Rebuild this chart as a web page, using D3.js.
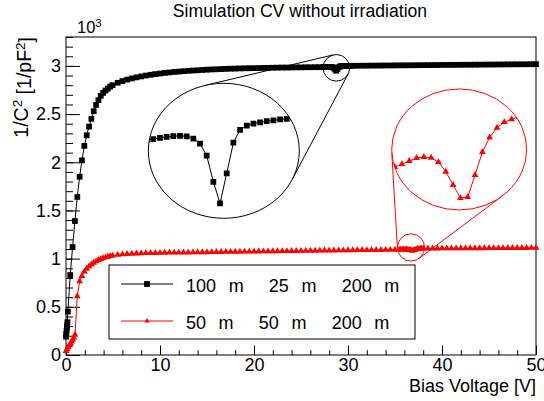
<!DOCTYPE html>
<html>
<head>
<meta charset="utf-8">
<script src="https://cdn.jsdelivr.net/npm/d3@7"></script>
<style>
  html, body { margin: 0; padding: 0; background: #fff; }
  text { font-family: "Liberation Sans", Arial, Helvetica, sans-serif; }
</style>
</head>
<body>
<svg id="chart" width="544" height="401"></svg>
<script>
// ---- data: [bias voltage (V), 1/C^2 (10^3 /pF^2)] ----
const seriesBlack = [
  [0,0.19],[0.03,0.22],[0.06,0.25],[0.09,0.28],[0.12,0.31],[0.15,0.34],[0.2,0.45],
  [0.45,0.83],[0.7,1.12],[0.95,1.39],[1.2,1.64],[1.45,1.85],[1.7,2.02],[1.95,2.17],
  [2.2,2.28],[2.45,2.37],[2.7,2.45],[2.95,2.53],[3.2,2.595],[3.45,2.645],[3.7,2.69],
  [3.95,2.72],[4.2,2.745],[4.45,2.765],[4.7,2.785],[4.95,2.8],
  [5.5,2.825],[6,2.843],[6.5,2.858],[7,2.87],[7.5,2.881],[8,2.891],[8.5,2.9],[9,2.908],
  [9.5,2.915],[10,2.921],[10.5,2.927],[11,2.932],[11.5,2.937],[12,2.941],[12.5,2.945],
  [13,2.949],[13.5,2.952],[14,2.955],[14.5,2.958],[15,2.961],[15.5,2.963],[16,2.965],
  [16.5,2.967],[17,2.969],[17.5,2.971],[18,2.972],[18.5,2.974],[19,2.975],[19.5,2.976],
  [20,2.977],[20.5,2.978],[21,2.979],[21.5,2.98],[22,2.981],[22.5,2.982],[23,2.983],
  [23.5,2.983],[24,2.984],[24.5,2.985],[25,2.985],[25.5,2.986],[26,2.986],[26.5,2.987],
  [27,2.987],
  [27.375,2.9876],[27.5,2.9882],[27.625,2.9889],[27.75,2.9895],[27.875,2.9899],[28,2.9901],
  [28.125,2.9898],[28.25,2.9885],[28.375,2.9855],[28.5,2.9784],[28.625,2.9628],[28.75,2.95],
  [28.875,2.9678],[29,2.986],[29.125,2.9936],[29.25,2.9962],[29.375,2.9974],[29.5,2.9981],
  [29.625,2.9988],[29.75,2.9993],[29.875,2.9998],[30,3.0002],[30.125,3.0006],[30.25,3.0008],
  [30.5,3.0011],[31,3.0015],[31.5,3.0019],[32,3.0024],[32.5,3.0029],[33,3.0033],[33.5,3.0038],
  [34,3.0042],[34.5,3.0047],[35,3.0052],[35.5,3.0056],[36,3.006],[36.5,3.0065],[37,3.007],
  [37.5,3.0074],[38,3.0078],[38.5,3.0083],[39,3.0088],[39.5,3.0092],[40,3.0096],[40.5,3.0101],
  [41,3.0105],[41.5,3.0109],[42,3.0114],[42.5,3.0118],[43,3.0122],[43.5,3.0127],[44,3.0131],
  [44.5,3.0135],[45,3.014],[45.5,3.0144],[46,3.0148],[46.5,3.0152],[47,3.0157],[47.5,3.0161],
  [48,3.0165],[48.5,3.0169],[49,3.0173],[49.5,3.0178],[50,3.0182]
];

const seriesRed = [
  [0,0.04],[0.12,0.06],[0.24,0.08],[0.36,0.1],[0.48,0.12],[0.6,0.14],[0.72,0.16],[0.84,0.18],
  [0.96,0.21],[1.2,0.61],[1.45,0.765],[1.7,0.82],[1.95,0.865],[2.2,0.895],[2.45,0.92],
  [2.7,0.94],[2.95,0.957],[3.2,0.972],[3.45,0.985],[3.7,0.996],[3.95,1.005],[4.2,1.013],
  [4.45,1.02],[4.7,1.026],[4.95,1.031],
  [5.5,1.039],[6,1.044],[6.5,1.048],[7,1.051],[7.5,1.053],[8,1.055],[8.5,1.057],[9,1.058],
  [9.5,1.059],[10,1.06],[10.5,1.061],[11,1.062],[11.5,1.0625],[12,1.063],[12.5,1.064],
  [13,1.0645],[13.5,1.065],[14,1.066],[14.5,1.0665],[15,1.067],[15.5,1.068],[16,1.0685],
  [16.5,1.069],[17,1.07],[17.5,1.0705],[18,1.071],[18.5,1.072],[19,1.0725],[19.5,1.073],
  [20,1.074],[20.5,1.0745],[21,1.075],[21.5,1.076],[22,1.0765],[22.5,1.077],[23,1.078],
  [23.5,1.0785],[24,1.079],[24.5,1.08],[25,1.0805],[25.5,1.081],[26,1.082],[26.5,1.0825],
  [27,1.083],[27.5,1.084],[28,1.0845],[28.5,1.085],[29,1.086],[29.5,1.0865],[30,1.087],
  [30.5,1.0875],[31,1.088],[31.5,1.0885],[32,1.089],[32.5,1.0895],[33,1.09],[33.5,1.0905],
  [34,1.091],[34.5,1.0915],[35,1.092],
  [35.45,1.0925],[35.6,1.0932],[35.75,1.094],[35.9,1.0947],[36.05,1.095],[36.2,1.0948],
  [36.35,1.0937],[36.5,1.0913],[36.65,1.088],[36.8,1.0847],[36.95,1.085],[37.1,1.0905],
  [37.25,1.0962],[37.4,1.0999],[37.55,1.1023],[37.7,1.1037],[37.85,1.1044],[38,1.1051],
  [38.5,1.1054],[39,1.1057],[39.5,1.106],[40,1.1062],[40.5,1.1065],[41,1.1068],[41.5,1.107],
  [42,1.1073],[42.5,1.1076],[43,1.1078],[43.5,1.1081],[44,1.1084],[44.5,1.1086],[45,1.1089],
  [45.5,1.1092],[46,1.1094],[46.5,1.1097],[47,1.11],[47.5,1.1102],[48,1.1105],[48.5,1.1108],
  [49,1.111],[49.5,1.1113],[50,1.1116]
];

const xTickValues = [0, 10, 20, 30, 40, 50];
const yTickValues = [0, 0.5, 1, 1.5, 2, 2.5, 3];
const legendLabels = ["100  m    25  m    200  m", "50  m    50  m    200  m"];
const titleText = "Simulation CV without irradiation";
const xTitle = "Bias Voltage [V]";

// ---- layout ----
const W = 544, H = 401;
const frame = { left: 66, top: 37, right: 536, bottom: 355 };
const FONT = 18;

const svg = d3.select("#chart");
svg.append("rect").attr("width", W).attr("height", H).attr("fill", "#fff");

const x = d3.scaleLinear().domain([0, 50]).range([frame.left, frame.right]);
const y = d3.scaleLinear().domain([0, 3.3]).range([frame.bottom, frame.top]);

// magnified views: a small circle on the curve and an enlarged ellipse
const magnifiers = [
  { data: seriesBlack, color: "#000", symbol: d3.symbolSquare, size: 33,
    src: { v: 28.76, y: 2.98, r: 13.3 },
    inset: { v: 16.79, y: 2.119, rx: 75.5, ry: 67.5 },
    xDomain: [27.407, 30.235], yDomain: [2.9411, 3.0213] },
  { data: seriesRed, color: "#ff0000", symbol: d3.symbolTriangle, size: 20,
    src: { v: 36.70, y: 1.116, r: 13.6 },
    inset: { v: 41.83, y: 2.133, rx: 67.5, ry: 60.5 },
    xDomain: [35.39, 38.16], yDomain: [1.08175, 1.112] }
];

function drawSeries(g, data, xs, ys, color, symbol, size) {
  g.append("path").datum(data)
    .attr("d", d3.line().x(d => xs(d[0])).y(d => ys(d[1])))
    .attr("fill", "none").attr("stroke", color).attr("stroke-width", 1);
  g.selectAll(null).data(data).join("path")
    .attr("transform", d => `translate(${xs(d[0])},${ys(d[1])})`)
    .attr("d", d3.symbol(symbol, size)())
    .attr("fill", color);
}

// ---- axes (ticks point inwards, ROOT style) ----
const gx = svg.append("g").attr("transform", `translate(0,${frame.bottom})`);
gx.call(d3.axisBottom(x).tickValues(x.ticks(25)).tickSizeInner(-4.8).tickSizeOuter(0).tickFormat(""))
  .call(g => g.select(".domain").remove());
gx.append("g").call(d3.axisBottom(x).tickValues(xTickValues).tickSizeInner(-9.5).tickSizeOuter(0)
    .tickPadding(3).tickFormat(d => String(d)))
  .call(g => g.select(".domain").remove())
  .call(g => g.selectAll("text").attr("font-size", FONT).attr("font-family", "Liberation Sans, Arial, sans-serif").attr("fill", "#000"));

const gy = svg.append("g").attr("transform", `translate(${frame.left},0)`);
gy.call(d3.axisLeft(y).tickValues(y.ticks(33)).tickSizeInner(-7).tickSizeOuter(0).tickFormat(""))
  .call(g => g.select(".domain").remove());
gy.append("g").call(d3.axisLeft(y).tickValues(yTickValues).tickSizeInner(-14).tickSizeOuter(0)
    .tickPadding(5).tickFormat(d => String(d)))
  .call(g => g.select(".domain").remove())
  .call(g => g.selectAll("text").attr("font-size", FONT).attr("font-family", "Liberation Sans, Arial, sans-serif").attr("fill", "#000"));
svg.selectAll(".tick line").attr("stroke", "#000");

// frame
svg.append("rect")
  .attr("x", frame.left).attr("y", frame.top)
  .attr("width", frame.right - frame.left).attr("height", frame.bottom - frame.top)
  .attr("fill", "none").attr("stroke", "#000").attr("stroke-width", 1);

// ---- curves ----
drawSeries(svg.append("g"), seriesRed, x, y, "#ff0000", d3.symbolTriangle, 20);
drawSeries(svg.append("g"), seriesBlack, x, y, "#000", d3.symbolSquare, 33);

// ---- magnifier insets ----
// outer common tangents of two ellipses via support functions
function outerTangents(a, b) {
  const h = (e, nx, ny) => nx * e.cx + ny * e.cy + Math.sqrt((e.rx * nx) ** 2 + (e.ry * ny) ** 2);
  const f = t => h(a, Math.cos(t), Math.sin(t)) - h(b, Math.cos(t), Math.sin(t));
  const N = 1440, roots = [];
  for (let i = 0; i < N; i++) {
    let t0 = (i / N) * 2 * Math.PI, t1 = ((i + 1) / N) * 2 * Math.PI;
    let f0 = f(t0), f1 = f(t1);
    if (f0 === 0 || f0 * f1 < 0) {
      for (let k = 0; k < 50; k++) {
        const tm = (t0 + t1) / 2, fm = f(tm);
        if (f0 * fm <= 0) { t1 = tm; } else { t0 = tm; f0 = fm; }
      }
      roots.push((t0 + t1) / 2);
    }
  }
  const touch = (e, t) => {
    const nx = Math.cos(t), ny = Math.sin(t);
    const s = Math.sqrt((e.rx * nx) ** 2 + (e.ry * ny) ** 2);
    return [e.cx + e.rx * e.rx * nx / s, e.cy + e.ry * e.ry * ny / s];
  };
  return roots.map(t => [touch(a, t), touch(b, t)]);
}

magnifiers.forEach((m, i) => {
  const small = { cx: x(m.src.v), cy: y(m.src.y), rx: m.src.r, ry: m.src.r };
  const big = { cx: x(m.inset.v), cy: y(m.inset.y), rx: m.inset.rx, ry: m.inset.ry };
  const g = svg.append("g");

  outerTangents(small, big).forEach(([p, q]) => {
    g.append("line").attr("x1", p[0]).attr("y1", p[1]).attr("x2", q[0]).attr("y2", q[1])
      .attr("stroke", m.color).attr("stroke-width", 1);
  });
  g.append("ellipse").attr("cx", small.cx).attr("cy", small.cy).attr("rx", small.rx).attr("ry", small.ry)
    .attr("fill", "none").attr("stroke", m.color).attr("stroke-width", 1);

  const clipId = "inset-clip-" + i;
  svg.append("defs").append("clipPath").attr("id", clipId)
    .append("ellipse").attr("cx", big.cx).attr("cy", big.cy).attr("rx", big.rx).attr("ry", big.ry);
  g.append("ellipse").attr("cx", big.cx).attr("cy", big.cy).attr("rx", big.rx).attr("ry", big.ry)
    .attr("fill", "#fff").attr("stroke", "none");

  const xi = d3.scaleLinear().domain(m.xDomain).range([big.cx - big.rx, big.cx + big.rx]);
  const yi = d3.scaleLinear().domain(m.yDomain).range([big.cy + big.ry, big.cy - big.ry]);
  const inner = g.append("g").attr("clip-path", `url(#${clipId})`);
  const visible = m.data.filter(d => d[0] >= m.xDomain[0] - 0.6 && d[0] <= m.xDomain[1] + 0.6);
  drawSeries(inner, visible, xi, yi, m.color, m.symbol, m.size);

  g.append("ellipse").attr("cx", big.cx).attr("cy", big.cy).attr("rx", big.rx).attr("ry", big.ry)
    .attr("fill", "none").attr("stroke", m.color).attr("stroke-width", 1);
});

// ---- legend ----
const legend = svg.append("g");
legend.append("rect").attr("x", 109).attr("y", 265).attr("width", 306).attr("height", 74)
  .attr("fill", "#fff").attr("stroke", "#000").attr("stroke-width", 1);
const legendRows = [
  { label: legendLabels[0], color: "#000", symbol: d3.symbolSquare, size: 34, cy: 284 },
  { label: legendLabels[1], color: "#ff0000", symbol: d3.symbolTriangle, size: 12, cy: 321 }
];
legendRows.forEach(r => {
  legend.append("line").attr("x1", 121).attr("x2", 173).attr("y1", r.cy).attr("y2", r.cy)
    .attr("stroke", r.color).attr("stroke-width", 1);
  legend.append("path").attr("transform", `translate(147,${r.cy})`)
    .attr("d", d3.symbol(r.symbol, r.size)()).attr("fill", r.color);
  legend.append("text").attr("x", 186).attr("y", r.cy + 7.5)
    .attr("font-size", FONT).attr("word-spacing", 1.3)
    .style("white-space", "pre").attr("xml:space", "preserve")
    .text(r.label);
});

// ---- titles ----
svg.append("text").attr("x", 300).attr("y", 17.3).attr("text-anchor", "middle")
  .attr("font-size", 17.6).text(titleText);

svg.append("text").attr("x", frame.right).attr("y", 391.5).attr("text-anchor", "end")
  .attr("font-size", FONT).text(xTitle);

const yt = svg.append("text").attr("transform", `translate(28,${frame.top}) rotate(-90)`)
  .attr("text-anchor", "end").attr("font-size", 19.5);
yt.append("tspan").text("1/C");
yt.append("tspan").attr("dy", "-0.45em").attr("font-size", 13.5).text("2");
yt.append("tspan").attr("dy", "0.45em").text(" [1/pF");
yt.append("tspan").attr("dy", "-0.45em").attr("font-size", 13.5).text("2");
yt.append("tspan").attr("dy", "0.45em").text("]");

const exp = svg.append("text").attr("x", 77).attr("y", 33).attr("font-size", 16.5);
exp.append("tspan").text("10");
exp.append("tspan").attr("dy", "-0.5em").attr("font-size", 11.5).text("3");
</script>
</body>
</html>
